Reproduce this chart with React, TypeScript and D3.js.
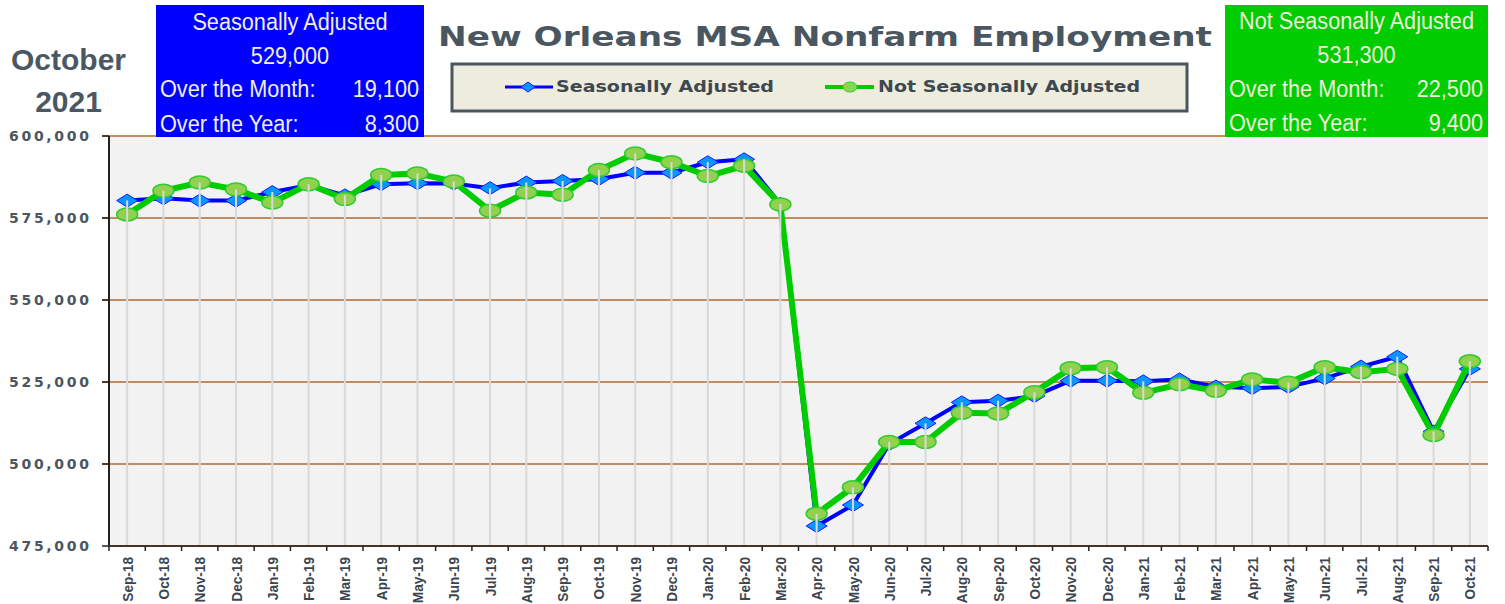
import React from 'react';
import * as d3 from 'd3';

// month labels, Sep-18 .. Oct-21
const months = [
  'Sep-18', 'Oct-18', 'Nov-18', 'Dec-18',
  'Jan-19', 'Feb-19', 'Mar-19', 'Apr-19', 'May-19', 'Jun-19', 'Jul-19', 'Aug-19', 'Sep-19', 'Oct-19', 'Nov-19', 'Dec-19',
  'Jan-20', 'Feb-20', 'Mar-20', 'Apr-20', 'May-20', 'Jun-20', 'Jul-20', 'Aug-20', 'Sep-20', 'Oct-20', 'Nov-20', 'Dec-20',
  'Jan-21', 'Feb-21', 'Mar-21', 'Apr-21', 'May-21', 'Jun-21', 'Jul-21', 'Aug-21', 'Sep-21', 'Oct-21',
];

const seasonallyAdjusted = [
  580300, 581000, 580300, 580300,
  582900, 585000, 581900, 585300, 585600, 585500, 584100, 585800, 586300, 586900, 588800, 588800,
  592000, 592900, 579300, 481100, 487500, 506100, 512400, 518800, 519300, 520700, 525400, 525400,
  525200, 525800, 523600, 523100, 523500, 526100, 529700, 532700, 509900, 529000,
];

const notSeasonallyAdjusted = [
  576100, 583300, 585800, 583700,
  579700, 585300, 580800, 588100, 588600, 586100, 577200, 582800, 582100, 589600, 594700, 592000,
  587800, 590900, 579100, 484800, 492900, 506700, 506700, 515600, 515400, 521900, 529200, 529500,
  521700, 524300, 522300, 525800, 524800, 529500, 528000, 529000, 508800, 531300,
];

const yTicks = [475000, 500000, 525000, 550000, 575000, 600000];

const saBox = ['Seasonally Adjusted', '529,000', '19,100', '8,300'];
const nsaBox = ['Not Seasonally Adjusted', '531,300', '22,500', '9,400'];

const W = 1505;
const H = 604;
const plot = { left: 109, right: 1488, top: 136, bottom: 546 };

const fmt = d3.format(',');

const App = () => {
  const x = d3.scaleBand<string>().domain(months).range([plot.left, plot.right]).padding(0);
  const y = d3.scaleLinear().domain([475000, 600000]).range([plot.bottom, plot.top]);
  const cx = (m: string) => (x(m) as number) + x.bandwidth() / 2;

  const line = d3
    .line<number>()
    .x((_, i) => cx(months[i]))
    .y((d) => y(d));

  const diamond = (px: number, py: number, w: number, h: number) =>
    `M${px - w / 2},${py} L${px},${py - h / 2} L${px + w / 2},${py} L${px},${py + h / 2} Z`;

  const cream = '#efeedd';
  const grey = '#4a5660';

  const infoBox = (
    x0: number, x1: number, fill: string, lines: string[], ys: number[]
  ) => {
    const mid = (x0 + x1) / 2;
    const sq = 'scale(0.885,1)';
    const t = (tx: number, ty: number, s: string, anchor: string) => (
      <text
        transform={`translate(${tx},${ty}) ${sq}`}
        textAnchor={anchor}
        fontFamily="'Liberation Sans', Arial, sans-serif"
        fontSize={24.5}
        fill={cream}
      >
        {s}
      </text>
    );
    return (
      <g>
        <rect x={x0} y={5} width={x1 - x0} height={132} fill={fill} />
        {t(mid, ys[0], lines[0], 'middle')}
        {t(mid, ys[1], lines[1], 'middle')}
        {t(x0 + 4, ys[2], 'Over the Month:', 'start')}
        {t(x1 - 5, ys[2], lines[2], 'end')}
        {t(x0 + 4, ys[3], 'Over the Year:', 'start')}
        {t(x1 - 5, ys[3], lines[3], 'end')}
      </g>
    );
  };

  return (
    <svg width={W} height={H} style={{ position: 'absolute', left: 0, top: 0, display: 'block', background: '#fff' }}>
      {/* plot background */}
      <rect x={plot.left} y={plot.top} width={plot.right - plot.left} height={plot.bottom - plot.top} fill="#f2f2f2" />

      {/* horizontal gridlines */}
      {yTicks.filter((v) => v > 475000).map((v) => (
        <line key={v} x1={plot.left - 7} x2={plot.right} y1={y(v)} y2={y(v)} stroke="#b26a32" strokeWidth={1.5} />
      ))}

      {/* y axis */}
      <line x1={plot.left} x2={plot.left} y1={plot.top} y2={plot.bottom} stroke="#222" strokeWidth={2} />
      {yTicks.map((v) => (
        <g key={v}>
          <line x1={plot.left - 7} x2={plot.left} y1={y(v)} y2={y(v)} stroke="#222" strokeWidth={1.5} />
          <text
            x={89}
            y={y(v)}
            dy="0.36em"
            textAnchor="end"
            fontFamily="'DejaVu Sans', Verdana, sans-serif"
            fontWeight="bold"
            fontSize={14}
            fill={grey}
            textLength={80}
            lengthAdjust="spacing"
          >
            {fmt(v)}
          </text>
        </g>
      ))}

      {/* x axis */}
      <line x1={plot.left} x2={plot.right} y1={plot.bottom} y2={plot.bottom} stroke="#4a3322" strokeWidth={2} />
      {months.map((m) => (
        <line key={'t' + m} x1={x(m)} x2={x(m)} y1={plot.bottom} y2={plot.bottom + 5} stroke="#222" strokeWidth={1.5} />
      ))}
      <line x1={plot.right} x2={plot.right} y1={plot.bottom} y2={plot.bottom + 5} stroke="#222" strokeWidth={1.5} />
      {months.map((m) => (
        <text
          key={'l' + m}
          transform={`translate(${cx(m)},${plot.bottom + 11}) rotate(-90) scale(0.88,1)`}
          dy="0.36em"
          textAnchor="end"
          fontFamily="'Liberation Sans', Arial, sans-serif"
          fontWeight="bold"
          fontSize={15.5}
          fill="#3c4650"
        >
          {m}
        </text>
      ))}

      {/* seasonally adjusted series */}
      <path d={line(seasonallyAdjusted) || ''} fill="none" stroke="#0000ff" strokeWidth={4} strokeLinejoin="round" />
      {seasonallyAdjusted.map((v, i) => (
        <path key={'d' + i} d={diamond(cx(months[i]), y(v), 21, 13)} fill="#0a96ff" stroke="#1a1aff" strokeWidth={1} />
      ))}

      {/* not seasonally adjusted series */}
      <path d={line(notSeasonallyAdjusted) || ''} fill="none" stroke="#00cc00" strokeWidth={6} strokeLinejoin="round" />
      {notSeasonallyAdjusted.map((v, i) => (
        <ellipse key={'c' + i} cx={cx(months[i])} cy={y(v)} rx={10.5} ry={6.5} fill="#92d050" stroke="#2ecc2e" strokeWidth={1.5} />
      ))}

      {/* drop lines */}
      {months.map((m, i) => (
        <line
          key={'dl' + m}
          x1={cx(m)}
          x2={cx(m)}
          y1={y(Math.max(seasonallyAdjusted[i], notSeasonallyAdjusted[i]))}
          y2={plot.bottom - 1}
          stroke="#d9d9d9"
          strokeWidth={2}
        />
      ))}

      {/* month / year heading */}
      <text x={68.5} y={70} textAnchor="middle" fontFamily="'Liberation Sans', Arial, sans-serif" fontWeight="bold" fontSize={30} fill="#4b5863">
        October
      </text>
      <text x={68.5} y={112} textAnchor="middle" fontFamily="'Liberation Sans', Arial, sans-serif" fontWeight="bold" fontSize={30} fill="#4b5863">
        2021
      </text>

      {/* info boxes */}
      {infoBox(156, 424, '#0000ff', saBox, [30, 64, 97, 132])}
      {infoBox(1225, 1488, '#00cc00', nsaBox, [29, 63, 97, 131])}

      {/* title */}
      <text
        x={825}
        y={46}
        textAnchor="middle"
        fontFamily="'DejaVu Sans', Verdana, sans-serif"
        fontWeight="bold"
        fontSize={26.5}
        fill={grey}
        textLength={774}
        lengthAdjust="spacingAndGlyphs"
      >
        New Orleans MSA Nonfarm Employment
      </text>

      {/* legend */}
      <rect x={452} y={64} width={735} height={47} fill="#eeecdc" stroke="#4a5560" strokeWidth={3} />
      <line x1={505} x2={553} y1={87} y2={87} stroke="#0000ff" strokeWidth={3} />
      <path d={diamond(528, 87, 14, 10)} fill="#0a96ff" stroke="#1a1aff" strokeWidth={1} />
      <text x={556} y={92} fontFamily="'DejaVu Sans', Verdana, sans-serif" fontWeight="bold" fontSize={15} fill="#3d4852" textLength={218} lengthAdjust="spacingAndGlyphs">
        Seasonally Adjusted
      </text>
      <line x1={825} x2={874} y1={87} y2={87} stroke="#00cc00" strokeWidth={4} />
      <ellipse cx={850} cy={87} rx={7} ry={5} fill="#92d050" stroke="#2ecc2e" strokeWidth={1} />
      <text x={878} y={92} fontFamily="'DejaVu Sans', Verdana, sans-serif" fontWeight="bold" fontSize={15} fill="#3d4852" textLength={262} lengthAdjust="spacingAndGlyphs">
        Not Seasonally Adjusted
      </text>
    </svg>
  );
};

export default App;
